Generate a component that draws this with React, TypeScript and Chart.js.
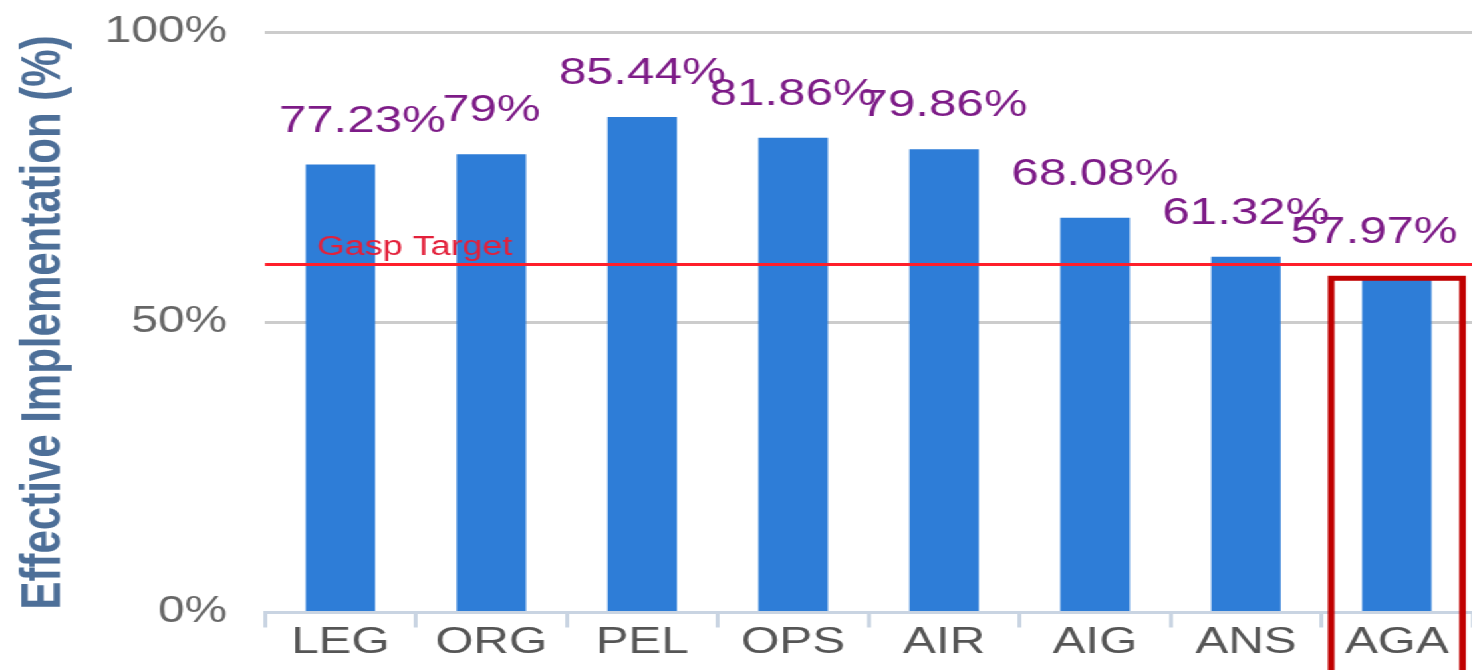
import React, { useEffect, useRef } from 'react';
import { Chart, registerables } from 'chart.js';

Chart.register(...registerables);

// ---- data ----
const categories = ['LEG', 'ORG', 'PEL', 'OPS', 'AIR', 'AIG', 'ANS', 'AGA'];
const values = [77.23, 79, 85.44, 81.86, 79.86, 68.08, 61.32, 57.97];
const valueLabels = ['77.23%', '79%', '85.44%', '81.86%', '79.86%', '68.08%', '61.32%', '57.97%'];
const yTicks = [0, 50, 100];
const targetValue = 60;
const targetLabel = 'Gasp Target';
const highlightCategory = 'AGA';
const yTitle = 'Effective Implementation (%)';

// ---- layout / style ----
const STRETCH = 1.33;
const W = Math.round(1472 / STRETCH);
const H = 670;
const FAMILY = '"Liberation Sans", Arial, Helvetica, sans-serif';

const overlayPlugin = {
  id: 'overlay',
  afterDatasetsDraw(chart: any) {
    const { ctx, chartArea, scales } = chart;
    const y = scales.y;
    const meta = chart.getDatasetMeta(0);
    ctx.save();
    // target line
    const ty = y.getPixelForValue(targetValue);
    ctx.strokeStyle = '#ff1f2a';
    ctx.lineWidth = 3;
    ctx.beginPath();
    ctx.moveTo(chartArea.left, ty);
    ctx.lineTo(chartArea.right, ty);
    ctx.stroke();
    ctx.fillStyle = '#e3203a';
    ctx.font = `27px ${FAMILY}`;
    ctx.textAlign = 'left';
    ctx.textBaseline = 'alphabetic';
    ctx.fillText(targetLabel, chartArea.left + 39, ty - 10);

    // value labels
    ctx.font = `37px ${FAMILY}`;
    ctx.fillStyle = '#7d1b87';
    ctx.textAlign = 'center';
    const n = meta.data.length;
    meta.data.forEach((bar: any, i: number) => {
      const nudge = i === 0 ? 16.5 : i === n - 1 ? -17 : 0;
      ctx.fillText(valueLabels[i], bar.x + nudge, bar.y - 33);
    });

    // highlight box
    const hi = categories.indexOf(highlightCategory);
    if (hi >= 0) {
      const bar: any = meta.data[hi];
      const catW = (chartArea.right - chartArea.left) / categories.length;
      const half = catW * 0.435;
      ctx.strokeStyle = '#c00000';
      ctx.lineWidth = 5;
      ctx.strokeRect(bar.x - half, bar.y + 2, 2 * half, H + 20 - bar.y);
    }
    ctx.restore();
  },
};

export default function App() {
  const ref = useRef<HTMLCanvasElement | null>(null);

  useEffect(() => {
    if (!ref.current) return;
    const chart = new Chart(ref.current, {
      type: 'bar',
      data: {
        labels: categories,
        datasets: [
          {
            data: values,
            backgroundColor: '#2e7dd7',
            borderWidth: 0,
            categoryPercentage: 1,
            barPercentage: 0.46,
          },
        ],
      },
      options: {
        animation: false,
        responsive: false,
        devicePixelRatio: 1,
        layout: { padding: { top: 32.5, left: 0, right: 0, bottom: 0 } },
        plugins: {
          legend: { display: false },
          tooltip: { enabled: false },
          title: { display: false },
        },
        scales: {
          x: {
            grid: {
              offset: true,
              drawOnChartArea: false,
              drawTicks: true,
              tickLength: 15,
              color: '#c9d4e2',
              lineWidth: 3,
            },
            border: { display: true, color: '#c9d4e2', width: 3 },
            ticks: {
              color: '#555555',
              font: { size: 37, family: FAMILY },
              padding: -7,
              maxRotation: 0,
              autoSkip: false,
            },
            afterFit: (s: any) => {
              s.height = 57.5;
            },
          },
          y: {
            min: 0,
            max: 100,
            afterBuildTicks: (s: any) => {
              s.ticks = yTicks.map((v) => ({ value: v }));
            },
            grid: {
              color: (c: any) => (c.tick && c.tick.value === 0 ? 'rgba(0,0,0,0)' : '#cccccc'),
              lineWidth: 3,
              drawTicks: true,
              tickLength: 28.5,
              tickColor: 'rgba(0,0,0,0)',
            },
            border: { display: false },
            ticks: {
              color: '#666666',
              font: { size: 36, family: FAMILY },
              padding: 0,
              callback: (v: any) => `${v}%`,
            },
            title: {
              display: true,
              text: yTitle,
              color: '#4d6f98',
              font: { size: 42, weight: 'bold', family: FAMILY },
              padding: { top: 8, bottom: 0 },
            },
            afterFit: (s: any) => {
              s.width = 199.2;
            },
          },
        },
      },
      plugins: [overlayPlugin],
    } as any);
    return () => chart.destroy();
  }, []);

  return (
    <div
      style={{
        position: 'fixed',
        left: 0,
        top: 0,
        width: W,
        height: H,
        transform: `scaleX(${STRETCH})`,
        transformOrigin: '0 0',
        background: '#ffffff',
      }}
    >
      <canvas ref={ref} width={W} height={H} style={{ display: 'block', width: W, height: H }} />
    </div>
  );
}
